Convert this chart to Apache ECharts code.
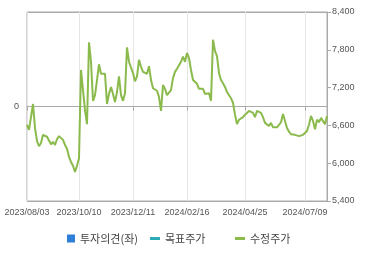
<!DOCTYPE html>
<html>
<head>
<meta charset="utf-8">
<script src="https://cdn.jsdelivr.net/npm/echarts@6/dist/echarts.min.js"></script>
<style>html,body{margin:0;padding:0;background:#fff}#c{width:370px;height:255px}</style>
</head>
<body>
<div id="c"></div>
<script>
// Tick labels on the category (trading-day sample) axis and their indices
const tickLabels = ['2023/08/03', '2023/10/10', '2023/12/11', '2024/02/16', '2024/04/25', '2024/07/09'];
const tickIndex = [0, 26, 53, 80, 109, 139];
// Right-axis ticks
const priceTicks = [5400, 6000, 6600, 7200, 7800, 8400];
// Series: 수정주가 (adjusted price), sampled along the period
const adjPrice = [
  6610, 6530, 6560, 6940, 6560, 6350, 6270, 6320, 6450, 6430,
  6420, 6400, 6300, 6340, 6290, 6380, 6430, 6420, 6370, 6290,
  6230, 6100, 6020, 5960, 5860, 5960, 6080, 7480, 7510, 6840,
  6620, 7920, 7610, 6990, 7080, 7320, 7570, 7420, 7430, 7420,
  6940, 7100, 7210, 7100, 6970, 7130, 7380, 7080, 6990, 7110,
  7840, 7610, 7640, 7430, 7300, 7380, 7640, 7530, 7450, 7480,
  7420, 7540, 7320, 7190, 7160, 7150, 7050, 6830, 7240, 7180,
  7080, 7070, 7160, 7350, 7450, 7500, 7510, 7610, 7690, 7610,
  7750, 7670, 7480, 7320, 7290, 7260, 7180, 7160, 7180, 7100,
  7080, 7110, 6990, 7960, 7780, 7700, 7430, 7320, 7270, 7210,
  7130, 7130, 7030, 6960, 6770, 6620, 6690, 6720, 6730, 6770,
  6800, 6830, 6840, 6800, 6730, 6830, 6830, 6800, 6730, 6640,
  6650, 6590, 6640, 6570, 6570, 6570, 6590, 6650, 6780, 6670,
  6560, 6500, 6460, 6460, 6450, 6480, 6430, 6430, 6450, 6480,
  6510, 6610, 6750, 6670, 6540, 6690, 6650, 6720, 6750, 6620,
  6750
];
// Series with no plotted values in this view
const opinion = [];
const targetPrice = [];
const seriesNames = ['투자의견(좌)', '목표주가', '수정주가'];
const seriesColors = ['#2F7ED8', '#2AABB5', '#8BBA4C'];

const cats = adjPrice.map((_, i) => i);
const isTick = (i) => tickIndex.indexOf(i) >= 0;
const txt = '#555';
const font = 'Liberation Sans, Arial, sans-serif';

const chart = echarts.init(document.getElementById('c'), null, {renderer: 'canvas'});
const legendBase = {
  top: 228, orient: 'horizontal', itemGap: 5,
  textStyle: {fontSize: 11, color: '#444', fontFamily: 'Noto Sans CJK KR'},
  selectedMode: false
};
chart.setOption({
  animation: false,
  grid: {left: 27, right: 43, top: 12, bottom: 54, show: true, borderColor: '#aaa', borderWidth: 1},
  legend: [
    Object.assign({}, legendBase, {left: 62, data: [{name: seriesNames[0], icon: 'rect'}], itemWidth: 8, itemHeight: 8}),
    Object.assign({}, legendBase, {left: 145, data: [{name: seriesNames[1], icon: 'rect'}], itemWidth: 10, itemHeight: 3}),
    Object.assign({}, legendBase, {left: 230, data: [{name: seriesNames[2], icon: 'rect'}], itemWidth: 10, itemHeight: 3})
  ],
  xAxis: {
    type: 'category', data: cats, boundaryGap: false,
    axisLine: {show: true, lineStyle: {color: '#aaa'}},
    axisTick: {show: true, interval: isTick, length: 4, lineStyle: {color: '#aaa'}},
    axisLabel: {interval: isTick, margin: 7, fontSize: 9, color: txt, fontFamily: font,
      formatter: (v) => tickLabels[tickIndex.indexOf(Number(v))] || ''},
    splitLine: {show: true, interval: isTick, lineStyle: {color: '#e6e6e6'}}
  },
  yAxis: [
    {type: 'value', min: -1, max: 1, interval: 1, position: 'left',
      axisLine: {show: false}, axisTick: {show: false},
      axisLabel: {margin: 8, fontSize: 9, color: txt, fontFamily: font, formatter: (v) => v === 0 ? '0' : ''},
      splitLine: {show: true, lineStyle: {color: ['#aaa', '#e6e6e6', '#aaa']}}},
    {type: 'value', min: priceTicks[0], max: priceTicks[priceTicks.length - 1], interval: 600, position: 'right',
      axisLine: {show: true, lineStyle: {color: '#aaa'}},
      axisTick: {show: true, length: 4, lineStyle: {color: '#aaa'}},
      axisLabel: {margin: 5, fontSize: 9, color: txt, fontFamily: font,
        formatter: (v) => v.toLocaleString('en-US')},
      splitLine: {show: false}}
  ],
  series: [
    {name: seriesNames[0], type: 'bar', yAxisIndex: 0, data: opinion, itemStyle: {color: seriesColors[0]}},
    {name: seriesNames[1], type: 'line', yAxisIndex: 1, data: targetPrice, itemStyle: {color: seriesColors[1]}, lineStyle: {color: seriesColors[1]}},
    {name: seriesNames[2], type: 'line', yAxisIndex: 1, data: adjPrice, showSymbol: false, symbol: 'none',
      itemStyle: {color: seriesColors[2]}, lineStyle: {color: seriesColors[2], width: 2}}
  ]
});
</script>
</body>
</html>
